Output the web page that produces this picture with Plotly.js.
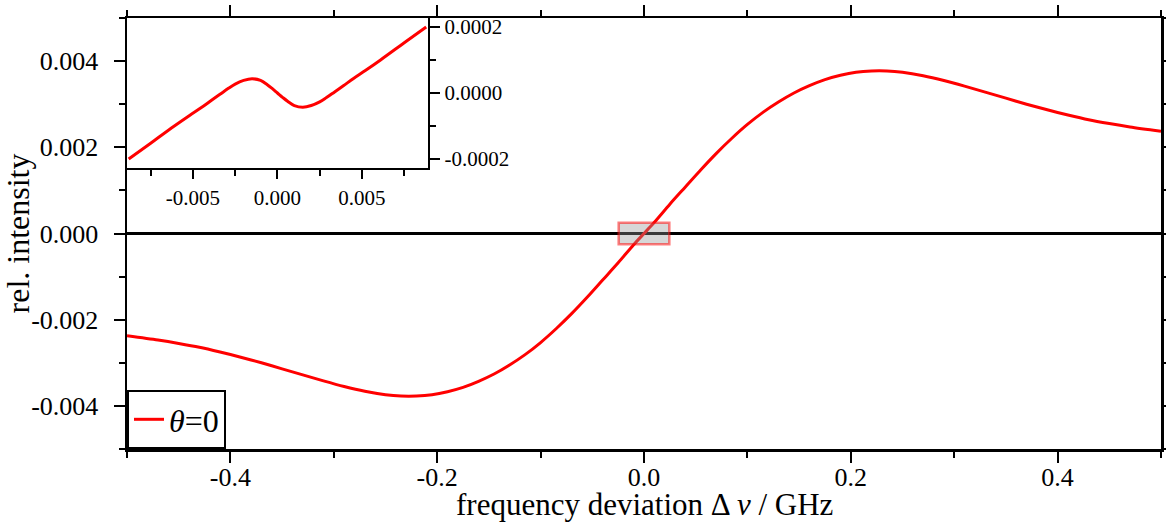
<!DOCTYPE html>
<html>
<head>
<meta charset="utf-8">
<script src="https://cdn.plot.ly/plotly-3.0.1.min.js"></script>
<style>
  html, body { margin: 0; padding: 0; background: #ffffff; }
  #chart { width: 1166px; height: 530px; }
</style>
</head>
<body>
<div id="chart"></div>
<script>
// ---- main curve: frequency deviation (GHz) vs relative intensity ----
const mainX = [-0.5, -0.47, -0.45, -0.43, -0.41, -0.39, -0.37, -0.35, -0.33, -0.31, -0.29, -0.27, -0.25,
  -0.235, -0.22, -0.205, -0.19, -0.175, -0.16, -0.145, -0.13, -0.115, -0.1, -0.085, -0.07, -0.055, -0.04,
  -0.025, -0.01, 0, 0.01, 0.025, 0.04, 0.055, 0.07, 0.085, 0.1, 0.115, 0.13, 0.145, 0.16, 0.175, 0.19,
  0.205, 0.22, 0.235, 0.25, 0.27, 0.29, 0.31, 0.33, 0.35, 0.37, 0.39, 0.41, 0.43, 0.45, 0.47, 0.5];
const mainY = [-0.00237, -0.00247, -0.00255, -0.00264, -0.00275, -0.00287, -0.00300, -0.00314, -0.00328,
  -0.00342, -0.00355, -0.00366, -0.00374, -0.00377, -0.00377, -0.00374, -0.00367, -0.00357, -0.00343,
  -0.00326, -0.00305, -0.00281, -0.00253, -0.00221, -0.00186, -0.00148, -0.00108, -0.00068, -0.00026, 0,
  0.00026, 0.00068, 0.00108, 0.00148, 0.00186, 0.00221, 0.00253, 0.00281, 0.00305, 0.00326, 0.00343,
  0.00357, 0.00367, 0.00374, 0.00377, 0.00377, 0.00374, 0.00366, 0.00355, 0.00342, 0.00328, 0.00314,
  0.00300, 0.00287, 0.00275, 0.00264, 0.00255, 0.00247, 0.00237];

// ---- inset: zoom around zero ----
const insetX = [-0.0088, -0.0075, -0.0061, -0.0052, -0.0045, -0.0039, -0.0034, -0.0029, -0.0025, -0.0020,
  -0.0015, -0.0010, -0.0006, -0.0003, 0, 0.0003, 0.0006, 0.0010, 0.0015, 0.0020, 0.0025, 0.0029, 0.0034,
  0.0039, 0.0045, 0.0052, 0.0061, 0.0075, 0.0088];
const insetY = [-0.000200, -0.000152, -0.000100, -0.000068, -0.000044, -0.000022, -0.000004, 0.000014,
  0.000027, 0.000038, 0.000043, 0.000038, 0.000025, 0.000013, 0, -0.000013, -0.000025, -0.000038,
  -0.000043, -0.000038, -0.000027, -0.000014, 0.000004, 0.000022, 0.000044, 0.000068, 0.000100,
  0.000152, 0.000200];

// ---- tick labels ----
const mainXTicks = [-0.4, -0.2, 0, 0.2, 0.4];
const mainXTickText = ["-0.4", "-0.2", "0.0", "0.2", "0.4"];
const mainXMinor = [-0.5, -0.3, -0.1, 0.1, 0.3, 0.5];
const mainYTicks = [-0.004, -0.002, 0, 0.002, 0.004];
const mainYTickText = ["-0.004", "-0.002", "0.000", "0.002", "0.004"];
const mainYMinor = [-0.005, -0.003, -0.001, 0.001, 0.003, 0.005];
const insetXTicks = [-0.005, 0, 0.005];
const insetXTickText = ["-0.005", "0.000", "0.005"];
const insetXMinor = [-0.0075, -0.0025, 0.0025, 0.0075];
const insetYTicks = [-0.0002, 0, 0.0002];
const insetYTickText = ["-0.0002", "0.0000", "0.0002"];
const insetYMinor = [-0.0001, 0.0001];

const legendName = "<i>θ</i>=0";
const xTitle = "frequency deviation Δ\u2009<i>ν</i> / GHz";
const yTitle = "rel. intensity";

const FONT = "Liberation Serif";

const traces = [
  { x: mainX, y: mainY, type: "scatter", mode: "lines", name: legendName,
    line: { color: "#ff0000", width: 3, shape: "spline", smoothing: 0.8 },
    xaxis: "x", yaxis: "y", showlegend: true },
  { x: insetX, y: insetY, type: "scatter", mode: "lines", name: "inset",
    line: { color: "#ff0000", width: 3, shape: "spline", smoothing: 1 },
    xaxis: "x2", yaxis: "y2", showlegend: false }
];

const axisCommon = {
  showgrid: false, showline: true, linecolor: "#000", linewidth: 2.5,
  ticks: "outside", tickcolor: "#000", tickwidth: 2, ticklen: 11,
  tickmode: "array"
};

const layout = {
  width: 1166, height: 530,
  margin: { l: 127, r: 5, t: 18, b: 81 },
  paper_bgcolor: "#fff", plot_bgcolor: "rgba(0,0,0,0)",
  font: { family: FONT, size: 26, color: "#000" },
  showlegend: true,
  legend: {
    x: 0, y: 0, xanchor: "left", yanchor: "bottom",
    bordercolor: "#000", borderwidth: 2, bgcolor: "#fff",
    font: { family: FONT, size: 32, color: "#000" },
    itemwidth: 30, tracegroupgap: 0
  },
  xaxis: Object.assign({}, axisCommon, {
    domain: [0, 1], range: [-0.5, 0.5], mirror: "ticks",
    tickvals: mainXTicks, ticktext: mainXTickText,
    minor: { tickmode: "array", tickvals: mainXMinor, ticks: "outside", ticklen: 6, tickwidth: 2, tickcolor: "#000" },
    zeroline: false, ticklabelstandoff: -8,
    tickfont: { family: FONT, size: 26, color: "#000" }
  }),
  yaxis: Object.assign({}, axisCommon, {
    domain: [0, 1], range: [-0.005, 0.005], mirror: "ticks",
    tickvals: mainYTicks, ticktext: mainYTickText,
    minor: { tickmode: "array", tickvals: mainYMinor, ticks: "outside", ticklen: 6, tickwidth: 2, tickcolor: "#000" },
    zeroline: true, zerolinecolor: "#000", zerolinewidth: 2.5, ticklabelstandoff: 10,
    title: { text: yTitle, font: { family: FONT, size: 32, color: "#000" }, standoff: 0 },
    tickfont: { family: FONT, size: 26, color: "#000" }
  }),
  xaxis2: Object.assign({}, axisCommon, {
    domain: [0, 0.291], anchor: "y2", range: [-0.0089, 0.0089], mirror: true,
    ticklen: 9,
    tickvals: insetXTicks, ticktext: insetXTickText,
    minor: { tickmode: "array", tickvals: insetXMinor, ticks: "outside", ticklen: 6, tickwidth: 2, tickcolor: "#000" },
    zeroline: false,
    tickfont: { family: FONT, size: 21, color: "#000" }
  }),
  yaxis2: Object.assign({}, axisCommon, {
    domain: [0.652, 1], anchor: "x2", side: "right", range: [-0.000227, 0.000227], mirror: true,
    ticklen: 10,
    tickvals: insetYTicks, ticktext: insetYTickText,
    minor: { tickmode: "array", tickvals: insetYMinor, ticks: "outside", ticklen: 6, tickwidth: 2, tickcolor: "#000" },
    zeroline: false,
    tickfont: { family: FONT, size: 21, color: "#000" }
  }),
  annotations: [
    { text: xTitle, xref: "paper", yref: "paper", x: 0.5, y: -0.128, xanchor: "center", yanchor: "middle",
      showarrow: false, font: { family: FONT, size: 31, color: "#000" } }
  ],
  shapes: [
    { type: "rect", xref: "x", yref: "y", x0: -0.0245, x1: 0.0245, y0: -0.00025, y1: 0.00025,
      layer: "above", fillcolor: "rgba(150,150,150,0.38)",
      line: { color: "rgba(255,0,0,0.5)", width: 2.5 } },
    { type: "rect", xref: "paper", yref: "paper", x0: 0, x1: 0.291, y0: 0.652, y1: 1,
      layer: "below", fillcolor: "#fff", line: { width: 0 } }
  ]
};

Plotly.newPlot("chart", traces, layout, { displayModeBar: false, staticPlot: true });
</script>
</body>
</html>
